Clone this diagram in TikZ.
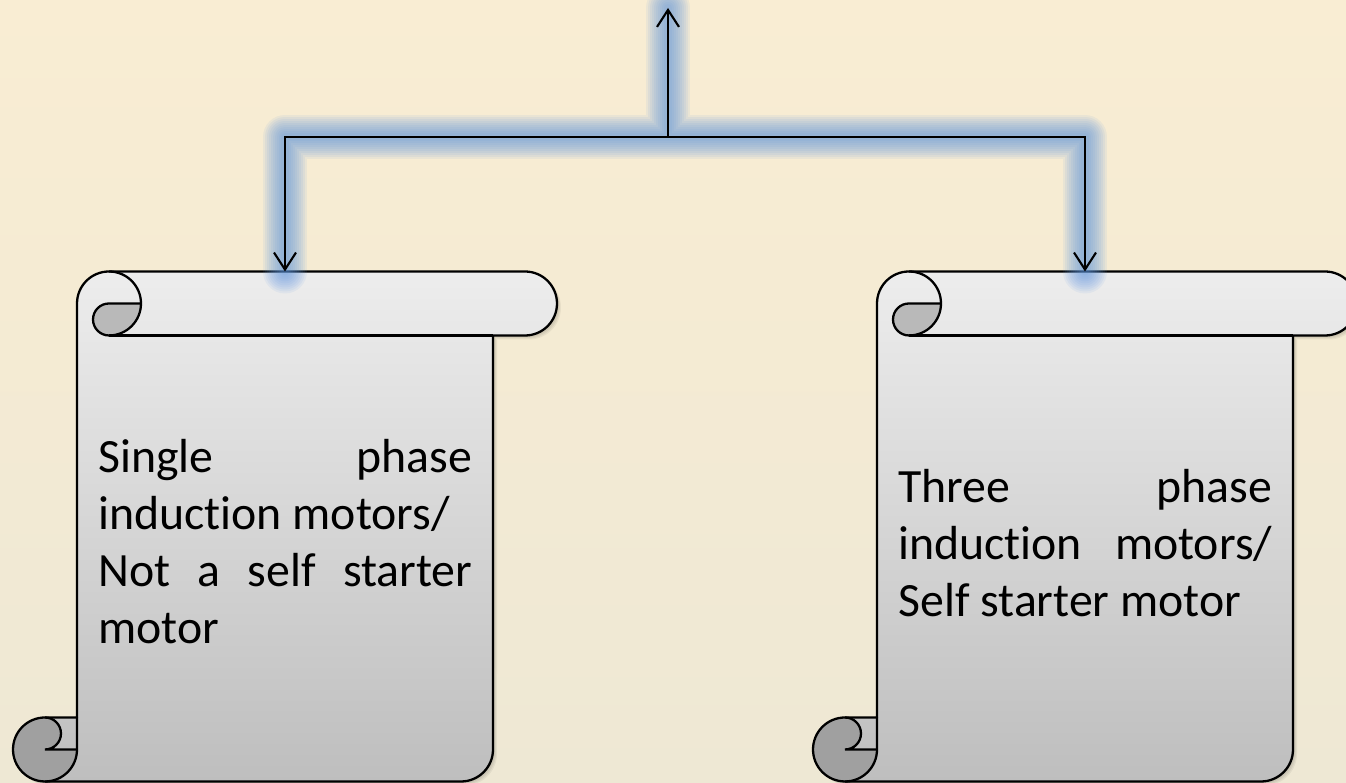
\documentclass[tikz,border=0pt]{standalone}
\usepackage{fontspec}
\setmainfont{Carlito}[Ligatures={NoCommon}]
\usepackage{tikz}
\usetikzlibrary{arrows.meta}
\definecolor{bgtop}{RGB}{249,237,211}
\definecolor{bgbottom}{RGB}{238,232,212}
\definecolor{papertop}{RGB}{237,237,237}
\definecolor{paperbottom}{RGB}{190,190,190}
\definecolor{curltop}{RGB}{185,185,185}
\definecolor{curlbottom}{RGB}{160,160,160}
\definecolor{glowblue}{RGB}{95,150,225}
\tikzset{
	branch/.style={->, >={Straight Barb[length=0.34cm,width=0.44cm]}, line width=1.2pt},
	scrolltext/.style={anchor=base west, inner sep=0pt, text width=7.48cm, align=justify,
		font=\fontsize{27.2}{32.4}\selectfont},
	% outer edge of the paper scroll
	scroll outline/.style={insert path={
		(32,0) -- (448,0) arc[start angle=-90, end angle=0, radius=0.64cm]
		-- (480,446) -- (512,446) arc[start angle=-90, end angle=90, radius=0.64cm]
		-- (96,510) arc[start angle=90, end angle=180, radius=0.64cm]
		-- (64,64) -- (32,64) arc[start angle=90, end angle=270, radius=0.64cm] -- cycle}},
	motorscroll/.pic={
		\foreach \s in {1,...,4}
			\fill[black, opacity=0.05, shift={(\s,-\s)}, scroll outline];
		\shade[top color=papertop, bottom color=paperbottom, scroll outline];
		\fill[curltop] (96,478) -- (128,478) arc[start angle=0, end angle=-90, radius=0.64cm]
			arc[start angle=-90, end angle=-270, radius=0.32cm] -- cycle;
		\fill[curlbottom] (64,32) arc[start angle=0, end angle=-270, radius=0.64cm]
			arc[start angle=90, end angle=-90, radius=0.32cm] -- cycle;
		\draw[line width=1.3pt, line join=round, scroll outline];
		\draw[line width=1.3pt] (96,446) -- (480,446);
		\draw[line width=1.3pt] (96,510) arc[start angle=90, end angle=-90, radius=0.64cm]
			arc[start angle=-90, end angle=-270, radius=0.32cm] -- (128,478);
		\draw[line width=1.3pt] (64,64) -- (64,32) arc[start angle=0, end angle=-90, radius=0.64cm];
		\draw[line width=1.3pt] (32,64) arc[start angle=90, end angle=-90, radius=0.32cm] -- (64,32);
		\coordinate (-top) at (272,510);
	}
}
\begin{document}
\begin{tikzpicture}[x=0.02cm, y=0.02cm]
	\useasboundingbox (0,0) rectangle (1346,783);
	\clip (0,0) rectangle (1346,783);
	\shade[top color=bgtop, bottom color=bgbottom] (0,0) rectangle (1346,783);
	
	\pic (single) at (13,1.5) {motorscroll};
	\pic (three) at (813,1.5) {motorscroll};
	
	\node[scrolltext] (single text) at (98,310) {Single\hfill phase\\induction motors/\\Not\hfill a\hfill self\hfill starter\\motor};
	\node[scrolltext] (three text) at (898,280) {Three\hfill phase\\induction\hfill motors/\\Self starter motor};
	
	\coordinate (root) at (668,646);
	\coordinate (top) at (668,775);
	
	% soft blue glow under the connectors
	\foreach \w in {44,40,...,8}
		\draw[glowblue, line width=\w*0.02cm, opacity=0.09, line cap=round, line join=round]
			(top) -- (root) -| (single-top) (root) -| (three-top);
	
	\draw[branch] (root) -- (top);
	\draw[branch] (root) -| (single-top);
	\draw[branch] (root) -| (three-top);
\end{tikzpicture}
\end{document}
